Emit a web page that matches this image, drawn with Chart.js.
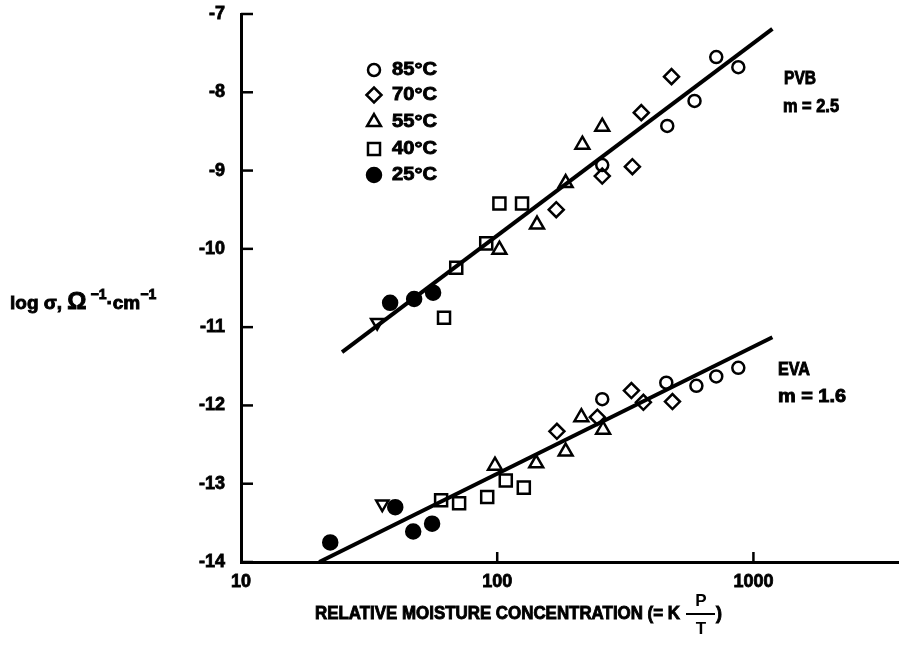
<!DOCTYPE html>
<html>
<head>
<meta charset="utf-8">
<script src="https://cdn.jsdelivr.net/npm/chart.js@4/dist/chart.umd.min.js"></script>
<style>
  html, body { margin: 0; padding: 0; background: #fff; }
  canvas { display: block; }
</style>
</head>
<body>
<canvas id="grafico" width="899" height="645"></canvas>
<script>
// [relative moisture concentration, log sigma] -- PVB group first, then EVA
const c85 = [[716, -7.55], [873, -7.68], [589, -8.11], [461, -8.43], [257, -8.93],
             [257, -11.92], [457, -11.71], [599, -11.75], [716, -11.63], [873, -11.52]];
const c70 = [[479, -7.80], [365, -8.26], [337, -8.95], [257, -9.07], [170, -9.50],
             [171, -12.33], [246, -12.15], [334, -11.81], [372, -11.96], [483, -11.95]];
const c55 = [[257, -8.44], [215, -8.67], [185, -9.16], [143, -9.69], [102, -10.01],
             [98, -12.77], [142, -12.74], [185, -12.59], [213, -12.15], [259, -12.31]];
const c40 = [[102, -9.42], [125, -9.42], [90.6, -9.93], [69.2, -10.24], [62, -10.88],
             [60.4, -13.21], [71, -13.25], [91.4, -13.17], [108, -12.96], [127, -13.05]];
const c25 = [[38.2, -10.69], [47.4, -10.64], [56.2, -10.56],
             [22.3, -13.75], [40, -13.30], [47, -13.61], [55.7, -13.51]];
const invertidos = [[34, -10.94], [35.6, -13.26]];
const pvbFit = [[24.8, -11.32], [1186, -7.19]];
const evaFit = [[20.2, -14], [1186, -11.13]];

const temperaturas = ['85°C', '70°C', '55°C', '40°C', '25°C'];
const xTicks = [10, 100, 1000];
const yTicks = [-7, -8, -9, -10, -11, -12, -13, -14];

const FONT = "'Liberation Sans', Arial, sans-serif";
const pts = a => a.map(([x, y]) => ({ x, y }));

const marcador = (label, data, style, radius, cheio, rot) => ({
  label,
  data: pts(data),
  showLine: false,
  pointStyle: style,
  pointRadius: radius,
  pointHoverRadius: radius,
  pointRotation: rot || 0,
  pointBorderColor: '#000',
  pointBackgroundColor: cheio ? '#000' : 'rgba(0,0,0,0)',
  pointBorderWidth: 2.5
});

const reta = (label, data) => ({
  label,
  data: pts(data),
  showLine: true,
  borderColor: '#000',
  borderWidth: 4,
  pointRadius: 0,
  fill: false
});

const estilos = [
  ['circle', 6, false],
  ['rectRot', 7.5, false],
  ['triangle', 8, false],
  ['rect', 8.5, false],
  ['circle', 7, true]
];

// bold text, squeezed/stretched to a given width, stroked a little to look heavier
function texto(ctx, str, x, y, w, size) {
  ctx.font = 'bold ' + size + 'px ' + FONT;
  const k = w ? w / ctx.measureText(str).width : 1;
  ctx.save();
  ctx.translate(x, y);
  ctx.scale(k, 1);
  ctx.textAlign = 'left';
  ctx.textBaseline = 'middle';
  ctx.lineWidth = 0.9;
  ctx.strokeStyle = '#000';
  ctx.fillText(str, 0, 0);
  ctx.strokeText(str, 0, 0);
  ctx.restore();
}

const extras = {
  id: 'extras',
  afterDraw(chart) {
    const { ctx, chartArea: a, scales: { x, y } } = chart;
    ctx.save();
    ctx.strokeStyle = '#000';
    ctx.fillStyle = '#000';
    ctx.lineWidth = 2.5;
    // inward tick marks
    yTicks.forEach(v => {
      const py = y.getPixelForValue(v);
      ctx.beginPath(); ctx.moveTo(a.left, py); ctx.lineTo(a.left + 12, py); ctx.stroke();
    });
    xTicks.slice(1).forEach(v => {
      const px = x.getPixelForValue(v);
      ctx.beginPath(); ctx.moveTo(px, a.bottom); ctx.lineTo(px, a.bottom - 10); ctx.stroke();
    });

    // legend
    const linhas = [70, 95, 122, 149, 175];
    temperaturas.forEach((t, i) => {
      const [style, radius, cheio] = estilos[i];
      ctx.fillStyle = cheio ? '#000' : 'rgba(0,0,0,0)';
      ctx.strokeStyle = '#000';
      ctx.lineWidth = 2.5;
      Chart.helpers.drawPoint(ctx, { pointStyle: style, radius, rotation: 0, borderWidth: 2.5 }, 374, linhas[i]);
      ctx.fillStyle = '#000';
      texto(ctx, t, 392, linhas[i], 45, 19);
    });

    // annotations
    ctx.fillStyle = '#000';
    texto(ctx, 'PVB', 784, 79, 32, 18);
    texto(ctx, 'm = 2.5', 783, 107, 56, 18);
    texto(ctx, 'EVA', 778, 370, 32, 18);
    texto(ctx, 'm = 1.6', 778, 397, 68, 18);

    // y title (horizontal)
    let cx = 10;
    const peca = (s, size, dy) => {
      ctx.font = 'bold ' + size + 'px ' + FONT;
      ctx.textAlign = 'left';
      ctx.textBaseline = 'alphabetic';
      ctx.lineWidth = 0.9;
      ctx.fillText(s, cx, 309 + dy);
      ctx.strokeText(s, cx, 309 + dy);
      cx += ctx.measureText(s).width;
    };
    peca('log σ, ', 19, 0);
    peca('Ω', 24, 0);
    peca(' −1', 14, -10);
    peca('·cm', 19, 0);
    peca('−1', 14, -10);

    // x title with P/T fraction
    texto(ctx, 'RELATIVE MOISTURE CONCENTRATION (= K', 315, 614, 365, 18);
    ctx.font = 'bold 17px ' + FONT;
    ctx.textAlign = 'center';
    ctx.textBaseline = 'middle';
    ctx.fillText('P', 701, 601);
    ctx.fillText('T', 701, 629);
    ctx.lineWidth = 2;
    ctx.beginPath(); ctx.moveTo(686, 614); ctx.lineTo(715, 614); ctx.stroke();
    texto(ctx, ')', 716, 614, 0, 18);
    ctx.restore();
  }
};

const ctx = document.getElementById('grafico').getContext('2d');
new Chart(ctx, {
  type: 'scatter',
  data: {
    datasets: [
      reta('PVB', pvbFit),
      reta('EVA', evaFit),
      ...temperaturas.map((t, i) => marcador(t, [c85, c70, c55, c40, c25][i], ...estilos[i])),
      marcador('inv', invertidos, 'triangle', 7, false, 180)
    ]
  },
  options: {
    responsive: false,
    animation: false,
    devicePixelRatio: 1,
    layout: { autoPadding: false, padding: { left: 181, top: 14, right: 0, bottom: 0 } },
    plugins: { legend: { display: false }, tooltip: { enabled: false } },
    scales: {
      x: {
        type: 'logarithmic',
        min: 10,
        max: 3700,
        afterBuildTicks: s => { s.ticks = xTicks.map(v => ({ value: v })); },
        afterFit: s => { s.height = 83; s.paddingLeft = 0; s.paddingRight = 0; },
        grid: { drawOnChartArea: false, drawTicks: false },
        border: { color: '#000', width: 3 },
        ticks: {
          color: '#000', padding: 9, maxRotation: 0, autoSkip: false,
          textStrokeColor: '#000', textStrokeWidth: 0.8,
          font: { family: FONT, size: 18, weight: 'bold' },
          callback: v => String(v)
        }
      },
      y: {
        min: -14,
        max: -7,
        afterBuildTicks: s => { s.ticks = yTicks.map(v => ({ value: v })); },
        afterFit: s => { s.width = 60; s.paddingTop = 0; s.paddingBottom = 0; },
        grid: { drawOnChartArea: false, drawTicks: false },
        border: { color: '#000', width: 3 },
        ticks: {
          color: '#000', padding: 16,
          textStrokeColor: '#000', textStrokeWidth: 0.8,
          font: { family: FONT, size: 18, weight: 'bold' },
          callback: v => String(v)
        }
      }
    }
  },
  plugins: [extras]
});
</script>
</body>
</html>
